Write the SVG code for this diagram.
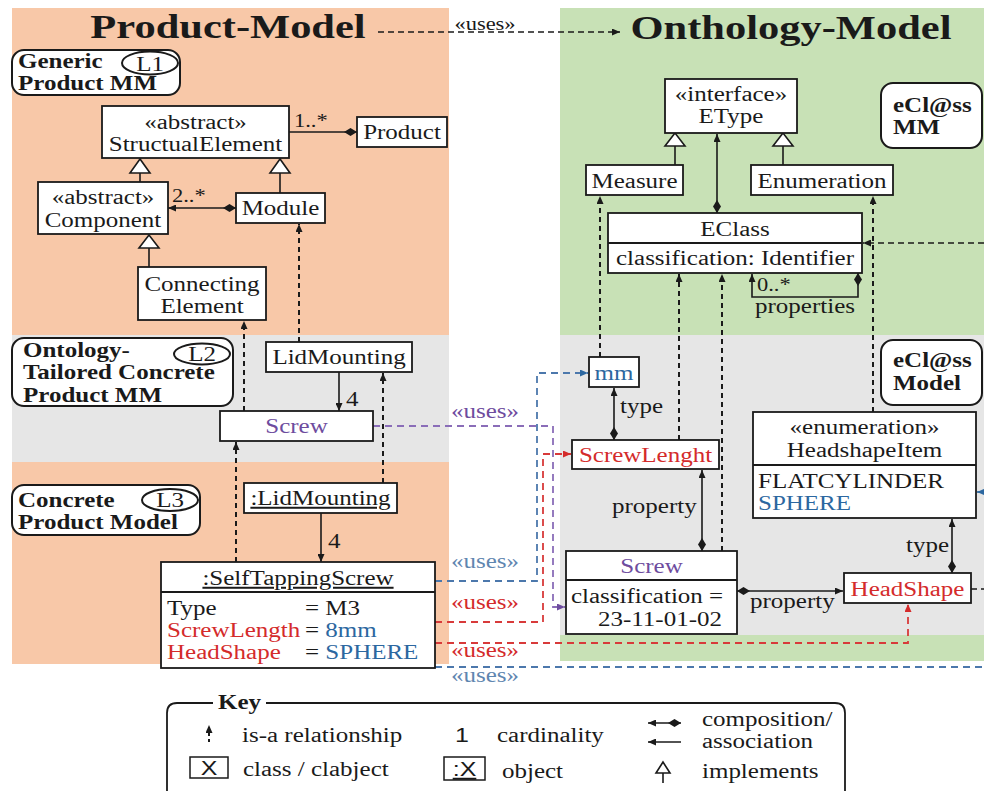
<svg xmlns="http://www.w3.org/2000/svg" width="984" height="793" viewBox="0 0 984 793">
  <style>
    text { font-family: "Liberation Serif", "Times New Roman", serif; font-size: 20px; fill: #1a1a1a; }
    .b { font-weight: bold; }
    .m { text-anchor: middle; }
    .e { text-anchor: end; }
    .sm { font-size: 18px; }
    .ttl { font-size: 34px; font-weight: bold; }
    .sans { font-family: "Liberation Sans", Arial, sans-serif; }
    .u { text-decoration: underline; }
    .red { fill: #D42B2B; }
    .blu { fill: #2C67A0; }
    .pur { fill: #6E4C9E; }
    .ubl { fill: #5F86B0; }
    .bg-o { fill: #F8C8A8; }
    .bg-g { fill: #C8E1B6; }
    .bg-y { fill: #E6E6E6; }
    .box { fill: #fff; stroke: #1a1a1a; stroke-width: 1.8; }
    .lbl { fill: #fff; stroke: #1a1a1a; stroke-width: 2; }
    .ln { fill: none; stroke: #1a1a1a; stroke-width: 1.6; }
    .isa { fill: none; stroke: #1a1a1a; stroke-width: 2; stroke-dasharray: 5 4; }
    .dk { fill: none; stroke: #1a1a1a; stroke-width: 1.6; stroke-dasharray: 6 4; }
    .ub { fill: none; stroke: #4C78AC; stroke-width: 1.8; stroke-dasharray: 7 5; }
    .ur { fill: none; stroke: #D83A3A; stroke-width: 1.8; stroke-dasharray: 7 5; }
    .up { fill: none; stroke: #8A6DB8; stroke-width: 1.8; stroke-dasharray: 7 5; }
    .tri { fill: #fff; stroke: #1a1a1a; stroke-width: 1.6; }
  </style>
  <defs>
    <marker id="ah" viewBox="0 0 8 7" refX="8" refY="3.5" markerWidth="8" markerHeight="7" markerUnits="userSpaceOnUse" orient="auto">
      <path d="M0,0 L8,3.5 L0,7 z" fill="#1a1a1a"/>
    </marker>
    <marker id="ahB" viewBox="0 0 8 7" refX="8" refY="3.5" markerWidth="8" markerHeight="7" markerUnits="userSpaceOnUse" orient="auto">
      <path d="M0,0 L8,3.5 L0,7 z" fill="#2C67A0"/>
    </marker>
    <marker id="ahR" viewBox="0 0 8 7" refX="8" refY="3.5" markerWidth="8" markerHeight="7" markerUnits="userSpaceOnUse" orient="auto">
      <path d="M0,0 L8,3.5 L0,7 z" fill="#D42B2B"/>
    </marker>
    <marker id="ahP" viewBox="0 0 8 7" refX="8" refY="3.5" markerWidth="8" markerHeight="7" markerUnits="userSpaceOnUse" orient="auto">
      <path d="M0,0 L8,3.5 L0,7 z" fill="#6E4C9E"/>
    </marker>
    <marker id="dm" viewBox="0 0 13 8" refX="0" refY="4" markerWidth="13" markerHeight="8" markerUnits="userSpaceOnUse" orient="auto">
      <path d="M0,4 L6.5,0 L13,4 L6.5,8 z" fill="#1a1a1a"/>
    </marker>
  </defs>

  <!-- model areas -->
  <g id="areas">
    <rect class="bg-o" x="12" y="8" width="437" height="327"/>
    <rect class="bg-y" x="12" y="335" width="437" height="127"/>
    <rect class="bg-o" x="12" y="462" width="437" height="202"/>
    <rect class="bg-g" x="560" y="8" width="424" height="327"/>
    <rect class="bg-y" x="560" y="335" width="424" height="300"/>
    <rect class="bg-g" x="560" y="635" width="424" height="26"/>
  </g>

  <g id="titles">
    <text class="ttl m" transform="matrix(1.25 0 0 1 228 38)">Product-Model</text>
    <text class="ttl m" transform="matrix(1.25 0 0 1 791 39)">Onthology-Model</text>
  </g>

  <!-- connectors -->
  <g id="connectors">
    <!-- top-level uses -->
    <path class="dk" d="M378,32 L620,32" marker-end="url(#ah)"/>
    <text class="sm m" transform="matrix(1.25 0 0 1 485 30)">«uses»</text>

    <!-- product metamodel -->
    <path class="ln" d="M357,132 L289,132" marker-start="url(#dm)"/>
    <text class="sm" transform="matrix(1.25 0 0 1 294 127)">1..*</text>
    <path class="ln" d="M236,208 L168,208" marker-start="url(#dm)" marker-end="url(#ah)"/>
    <text class="sm" transform="matrix(1.25 0 0 1 172 202)">2..*</text>
    <path class="ln" d="M140,173 L140,182"/>
    <polygon class="tri" points="140,159 130,173 150,173"/>
    <path class="ln" d="M280,173 L280,193"/>
    <polygon class="tri" points="280,159 270,173 290,173"/>
    <path class="ln" d="M149,248 L149,267"/>
    <polygon class="tri" points="149,235 139,248 159,248"/>

    <!-- is-a links, product side -->
    <path class="isa" d="M244,411 L244,321" marker-end="url(#ah)"/>
    <path class="isa" d="M299,342 L299,224" marker-end="url(#ah)"/>
    <path class="isa" d="M383,483 L383,373" marker-end="url(#ah)"/>
    <path class="isa" d="M236,562 L236,442" marker-end="url(#ah)"/>

    <!-- associations with cardinality -->
    <path class="ln" d="M339,372 L339,411" marker-end="url(#ah)"/>
    <text transform="matrix(1.25 0 0 1 346 406)">4</text>
    <path class="ln" d="M321,513 L321,562" marker-end="url(#ah)"/>
    <text transform="matrix(1.25 0 0 1 328 548)">4</text>

    <!-- eCl@ss metamodel -->
    <path class="ln" d="M675,145 L675,165"/>
    <polygon class="tri" points="675,133 665,146 685,146"/>
    <path class="ln" d="M783,145 L783,165"/>
    <polygon class="tri" points="783,133 773,146 793,146"/>
    <path class="ln" d="M717,213 L717,134" marker-start="url(#dm)" marker-end="url(#ah)"/>
    <path class="ln" d="M858,273 L858,297 L752,297 L752,274" marker-start="url(#dm)" marker-end="url(#ah)"/>
    <text class="sm" transform="matrix(1.25 0 0 1 757 291)">0..*</text>
    <text class="m" transform="matrix(1.25 0 0 1 805 313)">properties</text>
    <path class="dk" d="M984,243 L863,243" marker-end="url(#ah)"/>

    <!-- is-a links, ontology side -->
    <path class="isa" d="M600,357 L600,196" marker-end="url(#ah)"/>
    <path class="isa" d="M679,440 L679,274" marker-end="url(#ah)"/>
    <path class="isa" d="M722,551 L722,274" marker-end="url(#ah)"/>
    <path class="isa" d="M873,412 L873,196" marker-end="url(#ah)"/>

    <!-- eCl@ss model compositions -->
    <path class="ln" d="M614,440 L614,388" marker-start="url(#dm)" marker-end="url(#ah)"/>
    <text transform="matrix(1.25 0 0 1 620 413)">type</text>
    <path class="ln" d="M702,551 L702,470" marker-start="url(#dm)" marker-end="url(#ah)"/>
    <text transform="matrix(1.25 0 0 1 612 513)">property</text>
    <path class="ln" d="M737,591 L843,591" marker-start="url(#dm)" marker-end="url(#ah)"/>
    <text transform="matrix(1.25 0 0 1 750 608)">property</text>
    <path class="ln" d="M952,573 L952,519" marker-start="url(#dm)" marker-end="url(#ah)"/>
    <text class="e" transform="matrix(1.25 0 0 1 949 552)">type</text>
    <path class="dk" d="M971,589 L984,589"/>
    <path class="ln" d="M984,492 L977,492" style="stroke:#2C67A0" marker-end="url(#ahB)"/>

    <!-- uses links between the models -->
    <path class="up" d="M373,426 L553,426 L553,607 L565,607" marker-end="url(#ahP)"/>
    <text class="m pur" transform="matrix(1.25 0 0 1 485 418)">«uses»</text>
    <path class="ub" d="M435,581 L537,581 L537,373 L588,373" marker-end="url(#ahB)"/>
    <text class="m ubl" transform="matrix(1.25 0 0 1 485 568)">«uses»</text>
    <path class="ur" d="M435,622 L543,622 L543,454 L571,454" marker-end="url(#ahR)"/>
    <text class="m red" transform="matrix(1.25 0 0 1 485 609)">«uses»</text>
    <path class="ur" d="M435,643 L908,643 L908,604" marker-end="url(#ahR)"/>
    <text class="m red" transform="matrix(1.25 0 0 1 485 657)">«uses»</text>
    <path class="ub" d="M435,667 L984,667"/>
    <text class="m ubl" transform="matrix(1.25 0 0 1 485 682)">«uses»</text>
  </g>

  <!-- level labels -->
  <g id="level-l1">
    <rect class="lbl" x="12" y="50" width="168" height="45" rx="12"/>
    <ellipse class="lbl" cx="150" cy="63" rx="28" ry="11.5"/>
    <text class="b" transform="matrix(1.25 0 0 1 18 68)">Generic</text>
    <text class="b" transform="matrix(1.25 0 0 1 18 90)">Product MM</text>
    <text class="m" transform="matrix(1.25 0 0 1 150 71)">L1</text>
  </g>
  <g id="level-l2">
    <rect class="lbl" x="12" y="338" width="221" height="68" rx="12"/>
    <ellipse class="lbl" cx="202" cy="354" rx="28" ry="10.5"/>
    <text class="b" transform="matrix(1.25 0 0 1 23 357)">Ontology-</text>
    <text class="b" transform="matrix(1.25 0 0 1 23 379)">Tailored Concrete</text>
    <text class="b" transform="matrix(1.25 0 0 1 23 402)">Product MM</text>
    <text class="m" transform="matrix(1.25 0 0 1 202 361)">L2</text>
  </g>
  <g id="level-l3">
    <rect class="lbl" x="12" y="485" width="188" height="50" rx="12"/>
    <ellipse class="lbl" cx="170" cy="500" rx="28" ry="11"/>
    <text class="b" transform="matrix(1.25 0 0 1 18 507)">Concrete</text>
    <text class="b" transform="matrix(1.25 0 0 1 18 529)">Product Model</text>
    <text class="m" transform="matrix(1.25 0 0 1 170 507)">L3</text>
  </g>
  <g id="eclass-mm-label">
    <rect class="lbl" x="881" y="83" width="101" height="65" rx="12"/>
    <text class="b" transform="matrix(1.25 0 0 1 893 112)">eCl@ss</text>
    <text class="b" transform="matrix(1.25 0 0 1 893 134)">MM</text>
  </g>
  <g id="eclass-model-label">
    <rect class="lbl" x="881" y="340" width="101" height="65" rx="12"/>
    <text class="b" transform="matrix(1.25 0 0 1 893 367)">eCl@ss</text>
    <text class="b" transform="matrix(1.25 0 0 1 893 390)">Model</text>
  </g>

  <!-- product metamodel classes -->
  <g id="structural-element">
    <rect class="box" x="102" y="106" width="187" height="52"/>
    <text class="m" transform="matrix(1.25 0 0 1 195.5 129)">«abstract»</text>
    <text class="m" transform="matrix(1.25 0 0 1 195.5 151)">StructualElement</text>
  </g>
  <g id="product">
    <rect class="box" x="357" y="117" width="90" height="30"/>
    <text class="m" transform="matrix(1.25 0 0 1 402 139)">Product</text>
  </g>
  <g id="component">
    <rect class="box" x="38" y="182" width="130" height="52"/>
    <text class="m" transform="matrix(1.25 0 0 1 103 204)">«abstract»</text>
    <text class="m" transform="matrix(1.25 0 0 1 103 227)">Component</text>
  </g>
  <g id="module">
    <rect class="box" x="236" y="193" width="89" height="30"/>
    <text class="m" transform="matrix(1.25 0 0 1 280.5 215)">Module</text>
  </g>
  <g id="connecting-element">
    <rect class="box" x="138" y="267" width="128" height="53"/>
    <text class="m" transform="matrix(1.25 0 0 1 202 291)">Connecting</text>
    <text class="m" transform="matrix(1.25 0 0 1 202 313)">Element</text>
  </g>

  <!-- ontology-tailored classes -->
  <g id="lid-mounting">
    <rect class="box" x="266" y="342" width="146" height="30"/>
    <text class="m" transform="matrix(1.25 0 0 1 339 364)">LidMounting</text>
  </g>
  <g id="screw-class">
    <rect class="box" x="220" y="411" width="153" height="30"/>
    <text class="m pur" transform="matrix(1.25 0 0 1 296.5 433)">Screw</text>
  </g>

  <!-- concrete product objects -->
  <g id="lid-mounting-object">
    <rect class="box" x="244" y="483" width="153" height="30"/>
    <text class="m u" transform="matrix(1.25 0 0 1 320.5 505)">:LidMounting</text>
  </g>
  <g id="self-tapping-screw">
    <rect class="box" x="161" y="562" width="274" height="106"/>
    <line class="ln" x1="161" y1="592" x2="435" y2="592" style="stroke-width:1.8"/>
    <text class="m u" transform="matrix(1.25 0 0 1 298 585)">:SelfTappingScrew</text>
    <text transform="matrix(1.25 0 0 1 167 615)">Type</text>
    <text transform="matrix(1.25 0 0 1 305 615)">= M3</text>
    <text class="red" transform="matrix(1.25 0 0 1 167 637)">ScrewLength</text>
    <text transform="matrix(1.25 0 0 1 305 637)">= <tspan class="blu">8mm</tspan></text>
    <text class="red" transform="matrix(1.25 0 0 1 167 659)">HeadShape</text>
    <text transform="matrix(1.25 0 0 1 305 659)">= <tspan class="blu">SPHERE</tspan></text>
  </g>

  <!-- eCl@ss metamodel classes -->
  <g id="etype">
    <rect class="box" x="665" y="79" width="132" height="54"/>
    <text class="m" transform="matrix(1.25 0 0 1 731 101)">«interface»</text>
    <text class="m" transform="matrix(1.25 0 0 1 731 123)">EType</text>
  </g>
  <g id="measure">
    <rect class="box" x="586" y="165" width="97" height="30"/>
    <text class="m" transform="matrix(1.25 0 0 1 634.5 188)">Measure</text>
  </g>
  <g id="enumeration">
    <rect class="box" x="751" y="165" width="142" height="30"/>
    <text class="m" transform="matrix(1.25 0 0 1 822 188)">Enumeration</text>
  </g>
  <g id="eclass">
    <rect class="box" x="608" y="213" width="254" height="60"/>
    <line class="ln" x1="608" y1="243" x2="862" y2="243" style="stroke-width:1.8"/>
    <text class="m" transform="matrix(1.25 0 0 1 735 236)">EClass</text>
    <text class="m" transform="matrix(1.25 0 0 1 735 265)">classification: Identifier</text>
  </g>

  <!-- eCl@ss model elements -->
  <g id="mm">
    <rect class="box" x="589" y="357" width="50" height="30"/>
    <text class="m blu" transform="matrix(1.25 0 0 1 614 380)">mm</text>
  </g>
  <g id="screw-length">
    <rect class="box" x="572" y="440" width="147" height="29"/>
    <text class="m red" transform="matrix(1.25 0 0 1 645.5 462)">ScrewLenght</text>
  </g>
  <g id="screw-eclass">
    <rect class="box" x="566" y="551" width="171" height="83"/>
    <line class="ln" x1="566" y1="580" x2="737" y2="580" style="stroke-width:1.8"/>
    <text class="m pur" transform="matrix(1.25 0 0 1 651.5 573)">Screw</text>
    <text transform="matrix(1.25 0 0 1 571 603)">classification =</text>
    <text transform="matrix(1.25 0 0 1 598 626)">23-11-01-02</text>
  </g>
  <g id="head-shape">
    <rect class="box" x="844" y="573" width="127" height="30"/>
    <text class="m red" transform="matrix(1.25 0 0 1 907.5 596)">HeadShape</text>
  </g>
  <g id="headshape-item">
    <rect class="box" x="753" y="412" width="223" height="106"/>
    <line class="ln" x1="753" y1="465" x2="976" y2="465" style="stroke-width:1.8"/>
    <text class="m" transform="matrix(1.25 0 0 1 864.5 434)">«enumeration»</text>
    <text class="m" transform="matrix(1.25 0 0 1 864.5 457)">HeadshapeItem</text>
    <text transform="matrix(1.25 0 0 1 758 488)">FLATCYLINDER</text>
    <text class="blu" transform="matrix(1.25 0 0 1 758 510)">SPHERE</text>
  </g>

  <!-- legend -->
  <g id="key">
    <path class="ln" style="stroke-width:1.8" d="M213,703 L177,703 Q167,703 167,713 L167,791 M266,703 L835,703 Q845,703 845,713 L845,791"/>
    <text class="b" transform="matrix(1.25 0 0 1 218 709)">Key</text>
    <path class="isa" style="stroke-dasharray:3 3" d="M209,742 L209,725" marker-end="url(#ah)"/>
    <text transform="matrix(1.25 0 0 1 242 742)">is-a relationship</text>
    <text class="sans" transform="matrix(1.25 0 0 1 455 742)">1</text>
    <text transform="matrix(1.25 0 0 1 497 742)">cardinality</text>
    <path class="ln" d="M681,723 L648,723" marker-start="url(#dm)" marker-end="url(#ah)"/>
    <path class="ln" d="M681,742 L648,742" marker-end="url(#ah)"/>
    <text transform="matrix(1.25 0 0 1 702 726)">composition/</text>
    <text transform="matrix(1.25 0 0 1 702 748)">association</text>
    <rect class="box" x="190" y="757" width="38" height="21" style="stroke-width:1.5"/>
    <text class="sans m" transform="matrix(1.25 0 0 1 209 775)">X</text>
    <text transform="matrix(1.25 0 0 1 243 776)">class / clabject</text>
    <rect class="box" x="444" y="757" width="41" height="23" style="stroke-width:1.5"/>
    <text class="sans m u" transform="matrix(1.25 0 0 1 464.5 776)">:X</text>
    <text transform="matrix(1.25 0 0 1 502 778)">object</text>
    <path class="ln" d="M663,773 L663,783"/>
    <polygon class="tri" points="663,762 656,773 670,773"/>
    <text transform="matrix(1.25 0 0 1 702 778)">implements</text>
  </g>
</svg>
